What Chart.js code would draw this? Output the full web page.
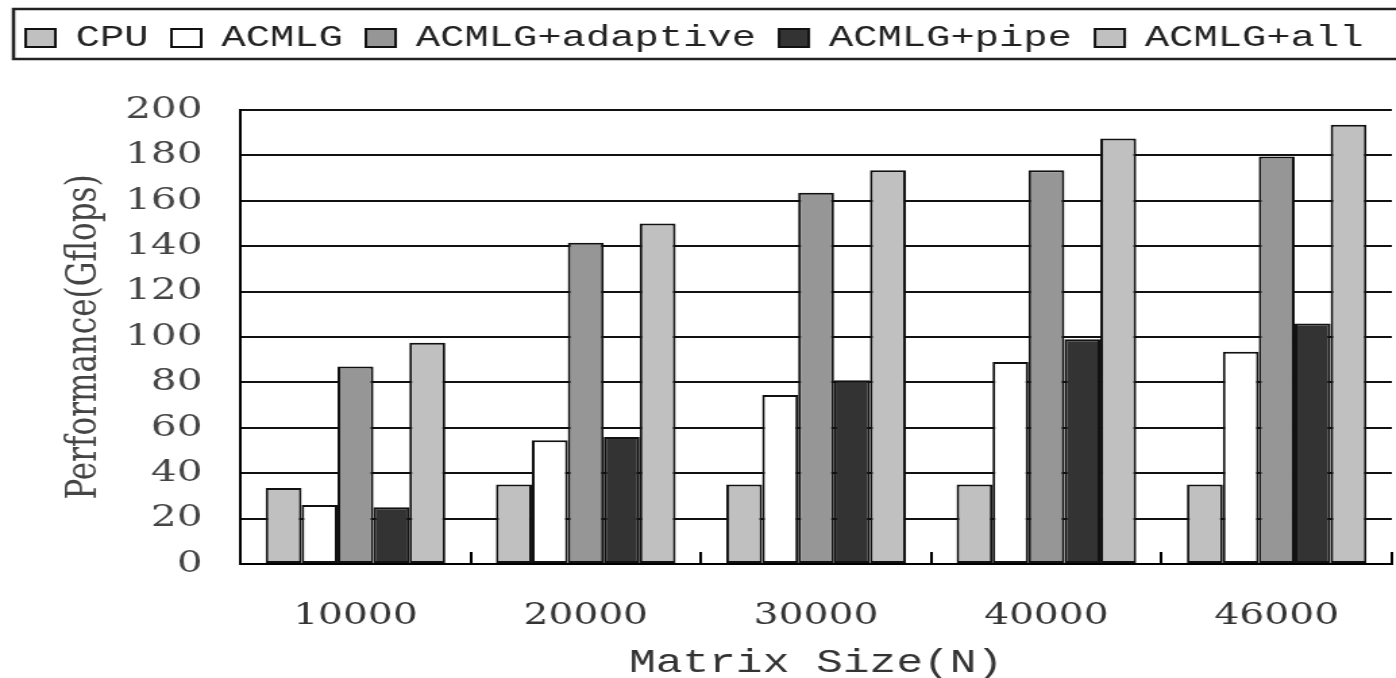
<!DOCTYPE html>
<html>
<head>
<meta charset="utf-8">
<script src="https://cdn.jsdelivr.net/npm/chart.js@4"></script>
<style>
  html, body { margin: 0; padding: 0; background: #fff; overflow: hidden; }
</style>
</head>
<body>
<!-- the original figure is stretched horizontally, so the canvas is too -->
<canvas id="chart" width="1040" height="678" style="width:1404px;height:678px"></canvas>
<script>
var categories = ['10000', '20000', '30000', '40000', '46000'];
var cpu      = [33.5, 35, 35, 35, 35];
var acmlg    = [26, 54.5, 74.5, 89, 93.5];
var adaptive = [87, 141.5, 163.5, 173.5, 179.5];
var pipe     = [25, 56, 81, 99, 106];
var all      = [97.5, 150, 173.5, 187.5, 193.5];
var yTicks   = [0, 20, 40, 60, 80, 100, 120, 140, 160, 180, 200];

var serif = "'DejaVu Serif', serif";
var mono = "'Liberation Mono', monospace";

function series(label, data, fill) {
    return {
        label: label,
        data: data,
        backgroundColor: fill,
        borderColor: '#111',
        borderWidth: 2,
        borderSkipped: false
    };
}

// frame around the legend (runs off the right edge like the original)
// and some extra room between legend and plot
var legendFrame = {
    id: 'legendFrame',
    beforeLayout: function (chart) {
        var lg = chart.legend;
        if (lg && !lg._spaced) {
            var fit = lg.fit;
            lg.fit = function () {
                fit.call(this);
                this.height += 47;
            };
            lg._spaced = true;
        }
    },
    afterDraw: function (chart) {
        var ctx = chart.ctx;
        ctx.save();
        ctx.strokeStyle = '#222';
        ctx.lineWidth = 2.5;
        ctx.strokeRect(10, 9, chart.width + 20, 50);
        ctx.restore();
    }
};

var ctx = document.getElementById('chart').getContext('2d');
var chart = new Chart(ctx, {
    type: 'bar',
    data: {
        labels: categories,
        datasets: [
            series('CPU', cpu, '#c0c0c0'),
            series('ACMLG', acmlg, '#ffffff'),
            series('ACMLG+adaptive', adaptive, '#969696'),
            series('ACMLG+pipe', pipe, '#333333'),
            series('ACMLG+all', all, '#c0c0c0')
        ]
    },
    options: {
        responsive: false,
        devicePixelRatio: 1,
        animation: false,
        layout: { padding: { top: 6, left: 2, right: 9, bottom: 0 } },
        datasets: { bar: { categoryPercentage: 0.78, barPercentage: 1.0 } },
        plugins: {
            tooltip: { enabled: false },
            legend: {
                align: 'start',
                labels: {
                    boxWidth: 22,
                    boxHeight: 18,
                    padding: 17,
                    color: '#222',
                    font: { family: mono, size: 30 }
                }
            }
        },
        scales: {
            x: {
                afterFit: function (scale) { scale.height = 114; },
                grid: {
                    offset: true,
                    drawOnChartArea: false,
                    drawTicks: true,
                    tickLength: -12,
                    color: '#000',
                    lineWidth: 2
                },
                border: { display: true, color: '#000', width: 2 },
                ticks: {
                    padding: 47,
                    color: '#333',
                    font: { family: serif, size: 29 }
                },
                title: {
                    display: true,
                    text: 'Matrix Size(N)',
                    color: '#333',
                    padding: { top: 0, bottom: -5 },
                    font: { family: mono, size: 33 }
                }
            },
            y: {
                min: 0,
                max: 200,
                afterFit: function (scale) { scale.width = 176; },
                afterBuildTicks: function (scale) {
                    scale.ticks = yTicks.map(function (v) { return { value: v }; });
                },
                grid: { color: '#111', lineWidth: 2, drawTicks: false },
                border: { display: true, color: '#000', width: 2 },
                ticks: {
                    padding: 28,
                    color: '#444',
                    font: { family: serif, size: 30 }
                },
                title: {
                    display: true,
                    text: 'Performance(Gflops)',
                    color: '#444',
                    padding: { top: 42, bottom: 0 },
                    font: { family: serif, size: 31 }
                }
            }
        }
    },
    plugins: [legendFrame]
});
</script>
</body>
</html>
